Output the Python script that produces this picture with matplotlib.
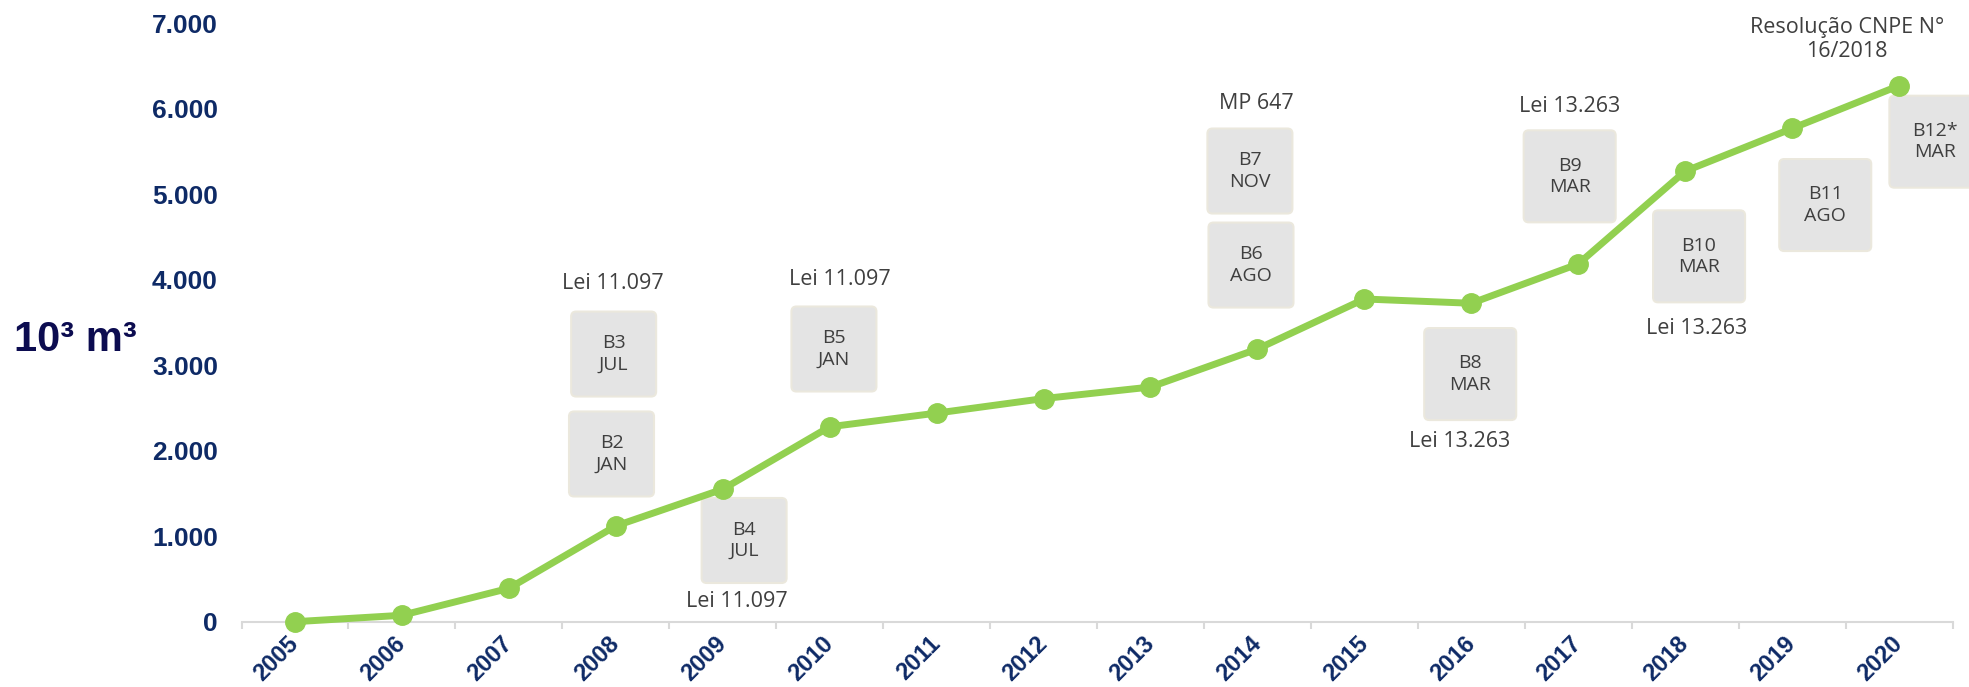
import matplotlib
matplotlib.use("Agg")
import matplotlib.pyplot as plt
from matplotlib.patches import FancyBboxPatch
from matplotlib.transforms import ScaledTranslation

# data
years = [str(y) for y in range(2005, 2021)]
volume = [0, 75, 390, 1120, 1550, 2280, 2440, 2610, 2745, 3190,
          3775, 3725, 4185, 5270, 5770, 6270]
ytick_vals = [0, 1000, 2000, 3000, 4000, 5000, 6000, 7000]
ytick_labels = ["0", "1.000", "2.000", "3.000", "4.000", "5.000", "6.000", "7.000"]

mandate_labels = ["B2\nJAN", "B3\nJUL", "B4\nJUL", "B5\nJAN", "B6\nAGO", "B7\nNOV",
                  "B8\nMAR", "B9\nMAR", "B10\nMAR", "B11\nAGO", "B12*\nMAR"]
law_labels = ["Lei 11.097", "Lei 11.097", "Lei 11.097", "MP 647", "Lei 13.263",
              "Lei 13.263", "Lei 13.263", "Resolução CNPE N°\n16/2018"]

# placement (category index, value, box size in px)
mandate_pos = [(2.96, 1962, 85), (2.98, 3131, 85), (4.20, 950, 85), (5.04, 3190, 85),
               (8.94, 4172, 85), (8.93, 5272, 85), (10.99, 2897, 92), (11.92, 5210, 92),
               (13.13, 4274, 92), (14.31, 4874, 92), (15.34, 5615, 92)]
law_pos = [(2.97, 3962), (4.13, 234), (5.10, 4005), (8.99, 6056), (10.895, 2105),
           (11.92, 6032), (13.11, 3432), (14.51, 6810)]

navy = "#0e2a66"
green = "#92d050"
txt_gray = "#3f3f3f"

fig = plt.figure(figsize=(19.69, 6.87), dpi=100)
ax = fig.add_axes([241.5 / 1969, 1 - 621.7 / 687, 1711 / 1969, 598.4 / 687])

x = list(range(len(years)))
ax.plot(x, volume, color=green, lw=5, marker="o", ms=14, zorder=5, clip_on=False)

ax.set_xlim(-0.5, len(years) - 0.5)
ax.set_ylim(0, 7000)

for s in ["top", "right", "left"]:
    ax.spines[s].set_visible(False)
ax.spines["bottom"].set_color("#d9d9d9")
ax.spines["bottom"].set_linewidth(1.5)

ax.set_yticks(ytick_vals)
ax.set_yticklabels(ytick_labels, fontsize=19, fontweight="bold", color=navy,
                   family="Liberation Sans")
ax.tick_params(axis="y", length=0, pad=17)

ax.set_xticks(x)
ax.set_xticks([i - 0.5 for i in range(len(years) + 1)], minor=True)
ax.set_xticklabels(years, fontsize=17, fontweight="bold", color=navy,
                   family="Liberation Sans", rotation=45, ha="right", va="center",
                   rotation_mode="anchor")
ax.tick_params(axis="x", which="major", length=0, pad=13)
ax.tick_params(axis="x", which="minor", length=5, width=1.5, color="#d9d9d9")

# mandate boxes
for lab, (bx, by, size) in zip(mandate_labels, mandate_pos):
    w = size / 100.0
    tr = fig.dpi_scale_trans + ScaledTranslation(bx, by, ax.transData)
    box = FancyBboxPatch((-w / 2, -w / 2), w, w,
                         boxstyle="round,pad=0,rounding_size=0.05",
                         facecolor="#e4e4e4", edgecolor="#ebe8dd", lw=1.5,
                         transform=tr, clip_on=False, zorder=3)
    ax.add_patch(box)
    ax.text(bx, by, lab, ha="center", va="center", fontsize=14, color=txt_gray,
            family="Open Sans", linespacing=1.25, zorder=4)

# legislation labels
for lab, (lx, ly) in zip(law_labels, law_pos):
    ax.text(lx, ly, lab, ha="center", va="center", fontsize=15.5, color=txt_gray,
            family="Open Sans", linespacing=1.2, zorder=4)

fig.text(75 / 1969, 1 - 340 / 687, "10³ m³", ha="center", va="center",
         fontsize=30, fontweight="bold", color="#0c0c50", family="Liberation Sans")

fig.savefig("out.png", dpi=100)
